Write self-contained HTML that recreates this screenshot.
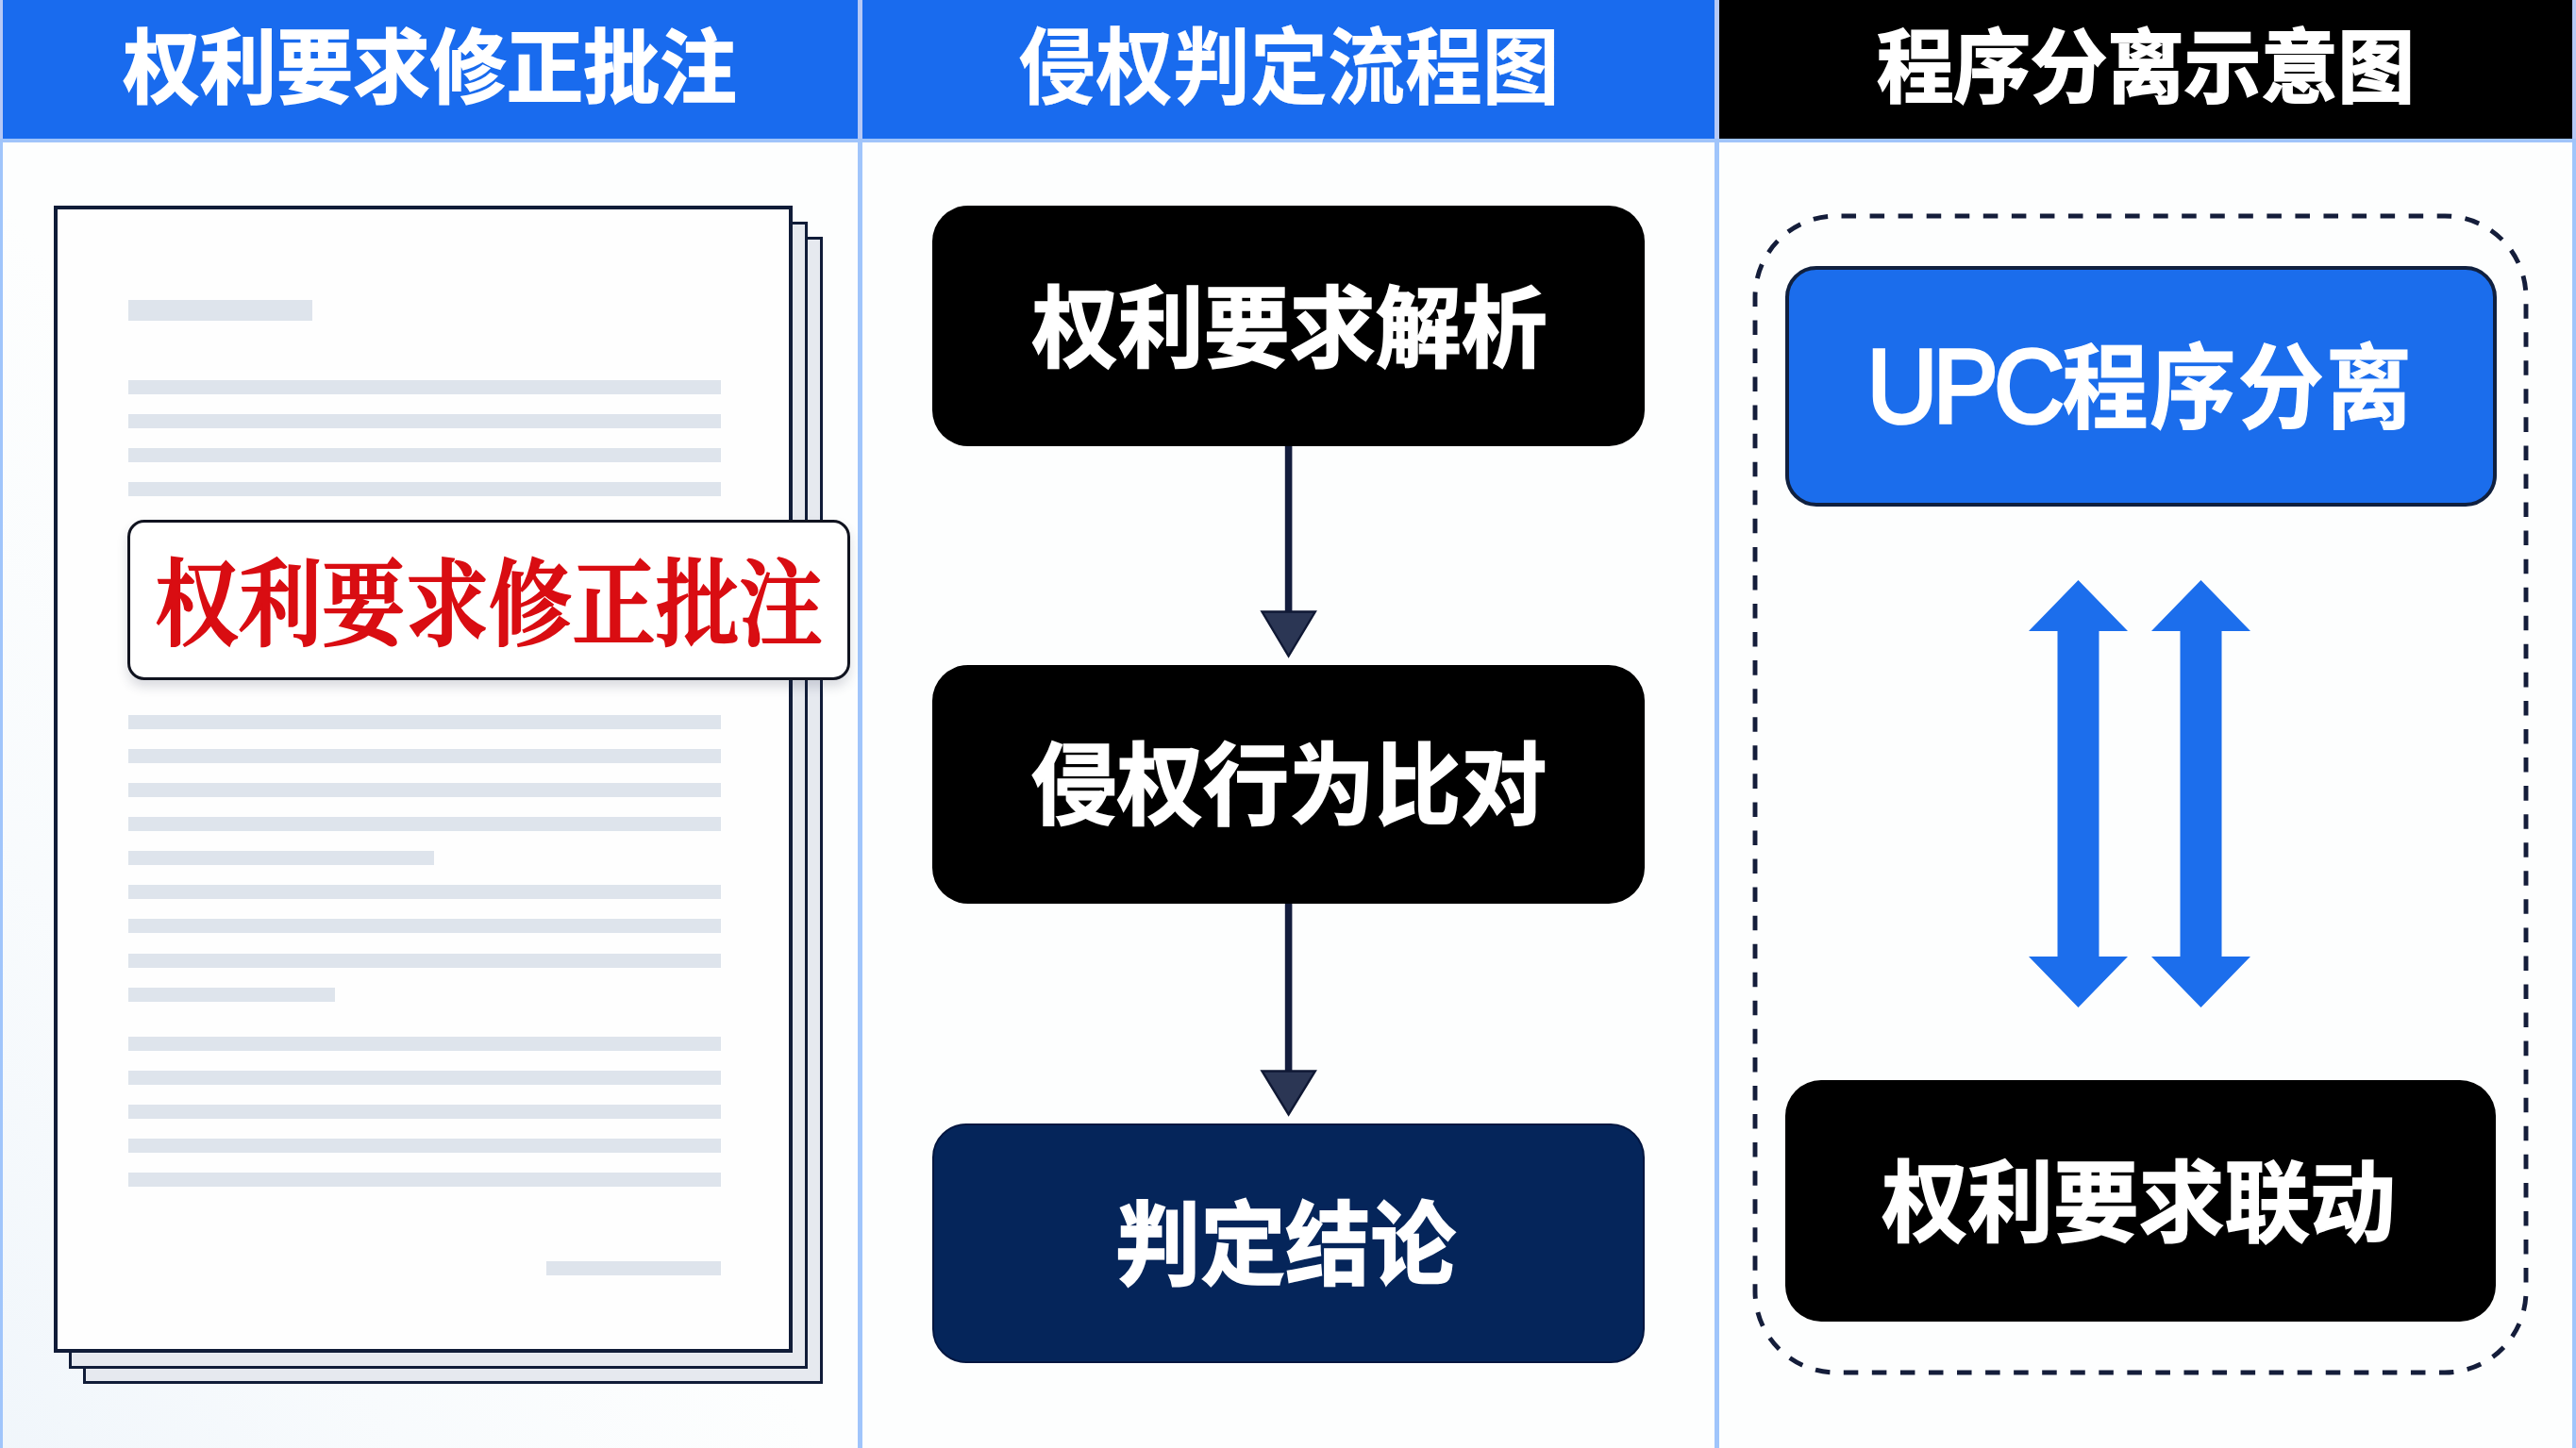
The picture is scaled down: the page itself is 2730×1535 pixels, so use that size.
<!DOCTYPE html>
<html lang="zh-CN">
<head>
<meta charset="utf-8">
<title>权利要求修正批注 · 侵权判定流程图 · 程序分离示意图</title>
<style>
  html, body { margin: 0; padding: 0; }
  body {
    width: 2730px; height: 1535px; overflow: hidden; position: relative;
    background: #fdfefe;
    font-family: "Liberation Sans", "Noto Sans CJK SC", sans-serif;
  }
  .abs { position: absolute; }
  .t { display: inline-block; font-weight: inherit; font-style: normal; transform: translateY(4px) scale(.99, 1.06); }
  .title .t { transform: translateY(0px) scale(.994, 1.08); }
  .note .t { transform: translateY(6.5px) scale(1.005, 1.14); }
  .upc .t { transform: translateY(-2px) scale(.99, 1.06); }
  .sans { font-family: "Liberation Sans", "Noto Sans CJK SC", sans-serif; font-weight: 700; -webkit-text-stroke: 1.6px #fff; }
  .title.sans { -webkit-text-stroke-width: 1px; }
  .kai  { font-family: "Liberation Serif", "Noto Serif CJK SC", serif; font-weight: 600; -webkit-text-stroke: 2px #d90d12; }

  /* frame lines */
  .vline { position: absolute; top: 0; height: 1535px; background: linear-gradient(to bottom, #b6c9f6 0, #b6c9f6 147px, #a0c5fb 147px); }
  .hline { position: absolute; left: 0; width: 2730px; top: 147px; height: 4px; background: #a0c4fa; }

  /* headers */
  .hdr { position: absolute; top: 0; height: 147px; }
  .hdr.blue { background: #196bee; }
  .hdr.black { background: #000; }
  .title {
    position: absolute; left: 0; right: 0; top: 0; height: 146px;
    color: #fff; text-align: center; white-space: nowrap;
    font-size: 82px; line-height: 146px;
  }

  /* document */
  .page { position: absolute; box-sizing: border-box; border: 4px solid #101c38; }
  .ln { position: absolute; left: 136px; width: 628px; height: 15px; background: #dee4ec; }

  /* annotation */
  .note {
    position: absolute; left: 135px; top: 551px; width: 766px; height: 170px; box-sizing: border-box;
    background: #fff; border: 3.5px solid #10131f; border-radius: 18px;
    box-shadow: 0 7px 12px rgba(40,50,80,.17);
  }
  .note span {
    position: absolute; left: 0; right: 0; top: 0; height: 163px; line-height: 163px;
    text-align: center; color: #d90d12; font-size: 88px; white-space: nowrap;
  }

  /* flow boxes */
  .box {
    position: absolute; box-sizing: border-box; border-radius: 38px;
    color: #fff; text-align: center; white-space: nowrap; font-size: 92px;
  }
  .box span { position: absolute; left: 0; right: 0; top: 0; }
</style>
</head>
<body>

<!-- header bars -->
<div class="hdr blue" style="left:0; width:912px;"></div>
<div class="hdr blue" style="left:912px; width:908px;"></div>
<div class="hdr black" style="left:1820px; width:910px;"></div>

<!-- frame -->
<div class="vline" style="left:0; width:3px;"></div>
<div class="vline" style="left:909.2px; width:5.2px;"></div>
<div class="vline" style="left:1817px; width:5px;"></div>
<div class="vline" style="left:2726px; width:4px;"></div>
<div class="hline"></div>

<!-- titles -->
<div class="title sans" style="left:3px; width:906px; -webkit-text-stroke-width:1.5px;"><i class="t" style="transform:translate(-0.5px,0px) scale(.991,1.056);">权利要求修正批注</i></div>
<div class="title sans" style="left:914px; width:903px; -webkit-text-stroke-width:0.2px;"><i class="t" style="transform:translate(1px,-0.3px) scale(.999,1.085);">侵权判定流程图</i></div>
<div class="title sans" style="left:1822px; width:904px; -webkit-text-stroke-width:1.9px;"><i class="t" style="transform:translate(0px,0.3px) scale(.993,1.04);">程序分离示意图</i></div>

<!-- ============ left panel: document stack ============ -->
<div class="abs" style="left:3px; top:150px; width:906px; height:1385px; background:linear-gradient(to top right, rgba(228,238,248,.5) 0%, rgba(234,242,250,.28) 22%, rgba(240,246,252,0) 48%);"></div>
<div class="page" style="left:88px; top:251px; width:784px; height:1216px; background:#e6e9ef; border-width:3.5px;"></div>
<div class="page" style="left:73px; top:235px; width:783px; height:1216px; background:#e6e9ef; border-width:3.5px;"></div>
<div class="page" style="left:57px; top:218px; width:783px; height:1216px; background:#fefefe;"></div>

<div class="ln" style="top:318px; width:195px; height:22px;"></div>
<div class="ln" style="top:403px;"></div>
<div class="ln" style="top:439px;"></div>
<div class="ln" style="top:475px;"></div>
<div class="ln" style="top:511px;"></div>

<div class="ln" style="top:758px;"></div>
<div class="ln" style="top:794px;"></div>
<div class="ln" style="top:830px;"></div>
<div class="ln" style="top:866px;"></div>
<div class="ln" style="top:902px; width:324px;"></div>
<div class="ln" style="top:938px;"></div>
<div class="ln" style="top:974px;"></div>
<div class="ln" style="top:1011px;"></div>
<div class="ln" style="top:1047px; width:219px;"></div>
<div class="ln" style="top:1099px;"></div>
<div class="ln" style="top:1135px;"></div>
<div class="ln" style="top:1171px;"></div>
<div class="ln" style="top:1207px;"></div>
<div class="ln" style="top:1243px;"></div>
<div class="ln" style="top:1337px; left:579px; width:185px;"></div>

<div class="note"><span class="kai"><i class="t">权利要求修正批注</i></span></div>

<!-- ============ middle panel: flow chart ============ -->
<div class="box sans" style="left:988px; top:218px; width:755px; height:255px; background:#000;"><span style="line-height:255px;"><i class="t" style="transform:translate(1.8px,4px) scale(.989,1.03);">权利要求解析</i></span></div>
<div class="box sans" style="left:988px; top:705px; width:755px; height:253px; background:#000;"><span style="line-height:253px;"><i class="t" style="transform:translate(1px,3px) scale(.99,1.035);">侵权行为比对</i></span></div>
<div class="box sans" style="left:988px; top:1191px; width:755px; height:254px; background:#05255a; border:2px solid #031640; border-radius:36px;"><span style="line-height:250px;"><i class="t" style="transform:translate(-2.7px,2.8px) scale(.98,1.045);">判定结论</i></span></div>

<svg class="abs" style="left:1320px; top:473px;" width="92" height="720" viewBox="1320 473 92 720">
  <rect x="1361.8" y="473" width="7.6" height="178" fill="#141d3d"/>
  <polygon points="1337.5,648.5 1393.8,648.5 1365.6,695.5" fill="#2b3654" stroke="#0f1834" stroke-width="2.4" stroke-linejoin="miter"/>
  <rect x="1361.8" y="958" width="7.6" height="180" fill="#141d3d"/>
  <polygon points="1337.5,1135.5 1393.8,1135.5 1365.6,1181.5" fill="#2b3654" stroke="#0f1834" stroke-width="2.4" stroke-linejoin="miter"/>
</svg>

<!-- ============ right panel: separation diagram ============ -->
<svg class="abs" style="left:1840px; top:210px;" width="860" height="1270" viewBox="1840 210 860 1270">
  <rect x="1860" y="229" width="817" height="1226" rx="86" ry="86" fill="none" stroke="#141d3a" stroke-width="4.9" pathLength="3930" stroke-dasharray="15.5 14.5" stroke-dashoffset="-5.5"/>
  <!-- double arrows -->
  <g fill="#1c6eec">
    <polygon points="2202.5,615 2255,669 2224.5,669 2224.5,1014 2255,1014 2202.5,1068 2150,1014 2180.5,1014 2180.5,669 2150,669"/>
    <polygon points="2332.5,615 2385,669 2354.5,669 2354.5,1014 2385,1014 2332.5,1068 2280,1014 2310.5,1014 2310.5,669 2280,669"/>
  </g>
</svg>

<div class="box sans upc" style="left:1892px; top:282px; width:754px; height:255px; background:#1b6dec; border:4px solid #10203f; border-radius:33px;"><span style="line-height:247px;"><i class="t"><span style="position:relative; top:2px; left:-2.5px; font-weight:400; font-size:105px; -webkit-text-stroke:3.5px #fff; letter-spacing:-5px;">UPC</span><span style="position:static; letter-spacing:2px; -webkit-text-stroke-width:1px;">程序分离</span></i></span></div>
<div class="box sans" style="left:1892px; top:1145px; width:753px; height:256px; background:#000; border-radius:38px;"><span style="line-height:256px;"><i class="t" style="transform:translate(-1.3px,2.7px) scale(.986,1.025);">权利要求联动</i></span></div>

</body>
</html>
